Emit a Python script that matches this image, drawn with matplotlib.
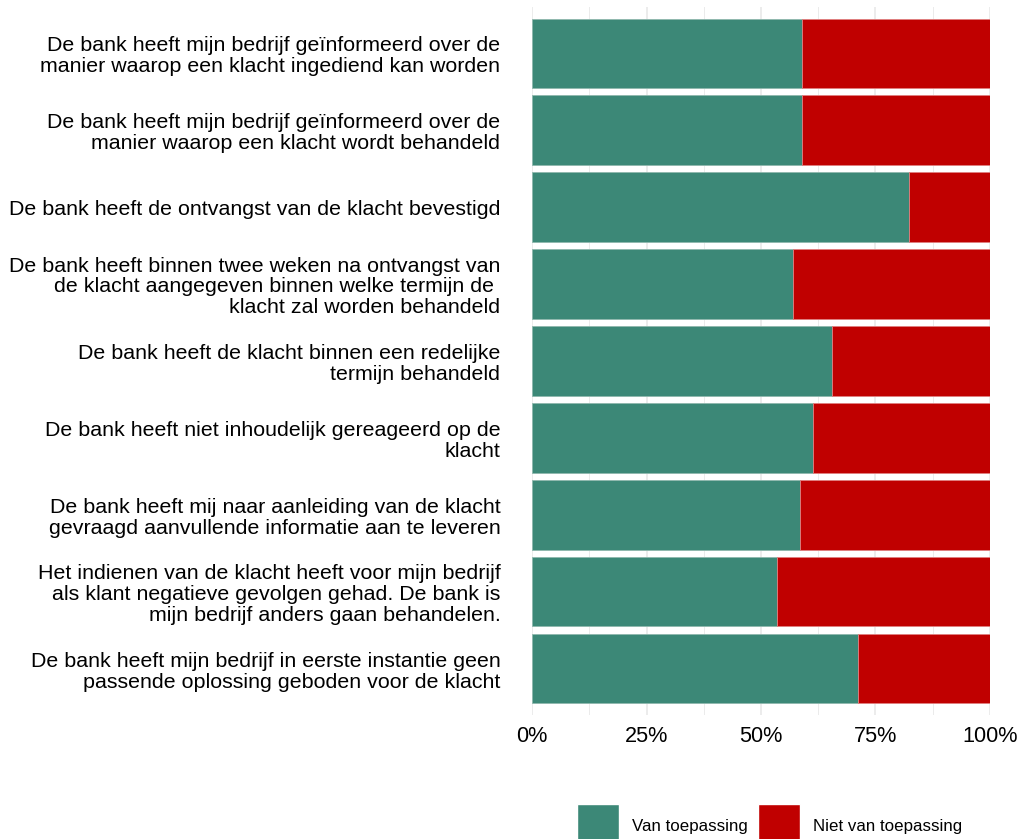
#!/usr/bin/env python
# coding:utf-8

"""
plot.py - stacked horizontal bars (klachtafhandeling bank)
"""

import matplotlib
matplotlib.use("Agg")
import matplotlib.pyplot as plt
from matplotlib.patches import Patch
from matplotlib.ticker import FixedLocator, PercentFormatter

plt.rcParams['font.family'] = ['Liberation Sans', 'DejaVu Sans']

statements = [
    "De bank heeft mijn bedrijf geïnformeerd over de\nmanier waarop een klacht ingediend kan worden",
    "De bank heeft mijn bedrijf geïnformeerd over de\nmanier waarop een klacht wordt behandeld",
    "De bank heeft de ontvangst van de klacht bevestigd",
    "De bank heeft binnen twee weken na ontvangst van\nde klacht aangegeven binnen welke termijn de \nklacht zal worden behandeld",
    "De bank heeft de klacht binnen een redelijke\ntermijn behandeld",
    "De bank heeft niet inhoudelijk gereageerd op de\nklacht",
    "De bank heeft mij naar aanleiding van de klacht\ngevraagd aanvullende informatie aan te leveren",
    "Het indienen van de klacht heeft voor mijn bedrijf\nals klant negatieve gevolgen gehad. De bank is\nmijn bedrijf anders gaan behandelen.",
    "De bank heeft mijn bedrijf in eerste instantie geen\npassende oplossing geboden voor de klacht",
]
van_toepassing = [0.590, 0.590, 0.823, 0.571, 0.655, 0.613, 0.585, 0.534, 0.711]
niet_van_toepassing = [1 - v for v in van_toepassing]
series_names = ["Van toepassing", "Niet van toepassing"]
colors = ["#3C8877", "#C00000"]


def main():
    fig = plt.figure(figsize=(10.3, 8.39), dpi=100)
    ax = fig.add_axes([0.5168, 0.1478, 0.9609 - 0.5168, 0.9917 - 0.1478])

    y = list(range(len(statements)))[::-1]
    ax.barh(y, van_toepassing, height=0.9, color=colors[0],
            edgecolor="#8FB8AE", linewidth=0.6, zorder=2)
    ax.barh(y, niet_van_toepassing, left=van_toepassing, height=0.9,
            color=colors[1], edgecolor="#E08080", linewidth=0.6, zorder=2)

    ax.set_xlim(0, 1)
    ax.set_ylim(-0.6, len(statements) - 0.4)
    ax.set_yticks(y)
    ax.set_yticklabels(statements, fontsize=15.4, linespacing=1.12, ha="right")
    ax.xaxis.set_major_locator(FixedLocator([0, 0.25, 0.5, 0.75, 1.0]))
    ax.xaxis.set_minor_locator(FixedLocator([0.125, 0.375, 0.625, 0.875]))
    ax.xaxis.set_major_formatter(PercentFormatter(1.0, decimals=0))
    ax.tick_params(axis="x", length=0, which="both", labelsize=15.6, pad=8)
    ax.tick_params(axis="y", length=0, pad=23)
    ax.grid(axis="x", which="major", color="#EBEBEB", linewidth=1.3, zorder=0)
    ax.grid(axis="x", which="minor", color="#EBEBEB", linewidth=0.7, zorder=0)
    ax.set_axisbelow(True)
    for s in ax.spines.values():
        s.set_visible(False)

    handles = [Patch(facecolor=c, edgecolor="#FFFFFF") for c in colors]
    fig.legend(handles, series_names, loc="upper left",
               bbox_to_anchor=(577 / 1030, 1 - 804 / 839), ncol=2,
               frameon=False, fontsize=12.2, borderpad=0, borderaxespad=0,
               handlelength=2.5, handleheight=3.7, handletextpad=0.75,
               columnspacing=0.6)

    fig.savefig("out.png", dpi=100)


if __name__ == "__main__":
    main()
